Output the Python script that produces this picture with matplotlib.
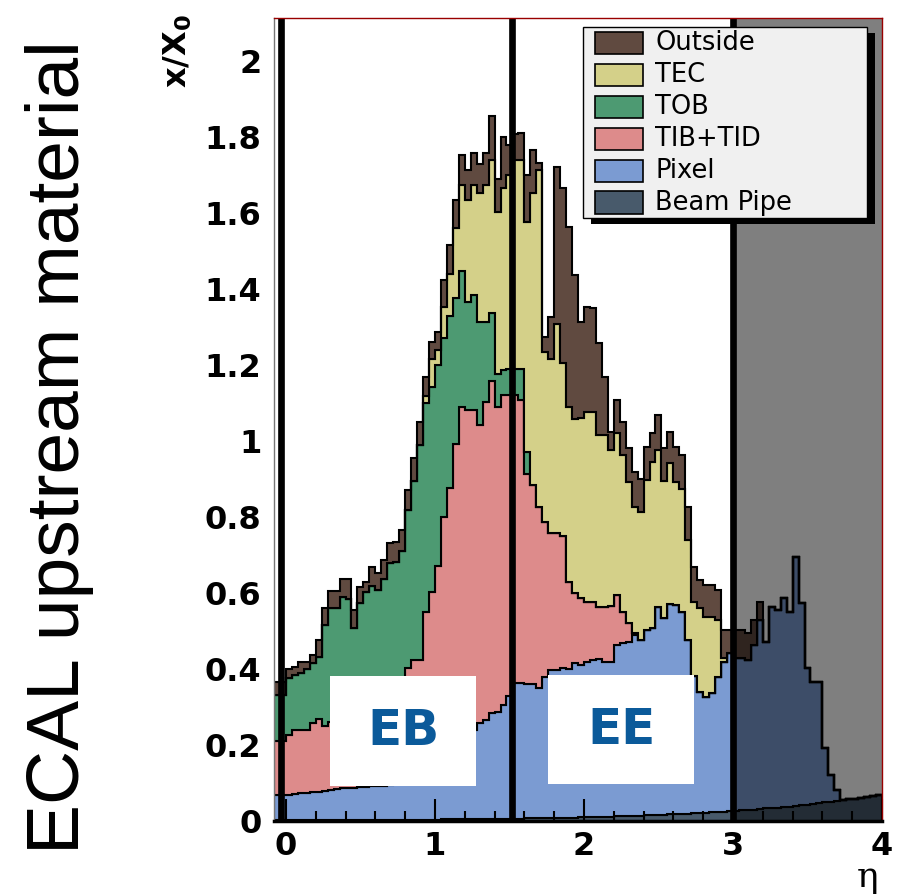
import numpy as np
import matplotlib
matplotlib.use("Agg")
import matplotlib.pyplot as plt
from matplotlib.patches import Rectangle

# ---- binning in |eta| : 0.04 wide bins, the first two just below 0 ----
eta_lo = -0.08
bin_width = 0.04
n_bins = 102

# ---- material budget per sub-detector (x/X0 per bin), bottom to top ----
beam_pipe = [
    0.0025, 0.0025,
    0.0025, 0.0025, 0.0025, 0.0025, 0.0025, 0.0026, 0.0026, 0.0026, 0.0027, 0.0027,
    0.0028, 0.0028, 0.0028, 0.0029, 0.0029, 0.0030, 0.0030, 0.0031, 0.0032, 0.0033,
    0.0034, 0.0035, 0.0036, 0.0037, 0.0038, 0.0039, 0.0040, 0.0042, 0.0043, 0.0044,
    0.0046, 0.0048, 0.0050, 0.0052, 0.0054, 0.0056, 0.0058, 0.0060, 0.0062, 0.0065,
    0.0067, 0.0070, 0.0073, 0.0076, 0.0079, 0.0082, 0.0085, 0.0088, 0.0091, 0.0094,
    0.0098, 0.0102, 0.0106, 0.0110, 0.0115, 0.0120, 0.0125, 0.0130, 0.0135, 0.0140,
    0.0146, 0.0152, 0.0158, 0.0165, 0.0172, 0.0180, 0.0187, 0.0195, 0.0203, 0.0212,
    0.022, 0.023, 0.024, 0.025, 0.026, 0.027, 0.028, 0.029, 0.030, 0.031,
    0.033, 0.034, 0.035, 0.037, 0.038, 0.040, 0.041, 0.043, 0.045, 0.047,
    0.049, 0.051, 0.053, 0.055, 0.057, 0.059, 0.061, 0.064, 0.066, 0.068,
]
pixel = [
    0.066, 0.066,
    0.066, 0.068, 0.070, 0.072, 0.074, 0.075, 0.077, 0.079, 0.082, 0.083,
    0.084, 0.085, 0.086, 0.087, 0.088, 0.089, 0.090, 0.091, 0.093, 0.097,
    0.102, 0.107, 0.111, 0.121, 0.131, 0.141, 0.156, 0.171, 0.186, 0.201,
    0.215, 0.235, 0.252, 0.260, 0.280, 0.282, 0.299, 0.324, 0.356, 0.356,
    0.353, 0.353, 0.342, 0.372, 0.389, 0.389, 0.394, 0.391, 0.406, 0.401,
    0.409, 0.414, 0.417, 0.408, 0.408, 0.451, 0.456, 0.459, 0.476, 0.462,
    0.488, 0.492, 0.548, 0.517, 0.555, 0.550, 0.532, 0.457, 0.360, 0.319,
    0.305, 0.313, 0.356, 0.394, 0.415, 0.401, 0.400, 0.396, 0.433, 0.498,
    0.439, 0.528, 0.520, 0.549, 0.513, 0.656, 0.533, 0.359, 0.322, 0.320,
    0.142, 0.070, 0.029, 0.0, 0.0, 0.0, 0.0, 0.0, 0.0, 0.0,
]
tib_tid = [
    0.142, 0.142,
    0.158, 0.170, 0.168, 0.166, 0.181, 0.192, 0.170, 0.178, 0.185, 0.194,
    0.203, 0.212, 0.221, 0.230, 0.239, 0.248, 0.257, 0.266, 0.274, 0.275,
    0.297, 0.314, 0.309, 0.426, 0.468, 0.527, 0.640, 0.700, 0.803, 0.885,
    0.862, 0.842, 0.785, 0.838, 0.873, 0.802, 0.816, 0.790, 0.758, 0.746,
    0.554, 0.524, 0.478, 0.408, 0.360, 0.360, 0.348, 0.230, 0.184, 0.176,
    0.158, 0.153, 0.136, 0.145, 0.145, 0.132, 0.082, 0.048, 0.006, 0.0,
    0.0, 0.0, 0.0, 0.0, 0.0, 0.0, 0.0, 0.0, 0.0, 0.0,
    0.0, 0.0, 0.0, 0.0, 0.0, 0.0, 0.0, 0.0, 0.0, 0.0,
    0.0, 0.0, 0.0, 0.0, 0.0, 0.0, 0.0, 0.0, 0.0, 0.0,
    0.0, 0.0, 0.0, 0.0, 0.0, 0.0, 0.0, 0.0, 0.0, 0.0,
]
tob = [
    0.120, 0.120,
    0.149, 0.145, 0.150, 0.160, 0.158, 0.162, 0.266, 0.302, 0.292, 0.310,
    0.294, 0.207, 0.263, 0.282, 0.289, 0.268, 0.286, 0.320, 0.312, 0.334,
    0.415, 0.471, 0.567, 0.549, 0.540, 0.528, 0.470, 0.455, 0.383, 0.357,
    0.284, 0.302, 0.272, 0.211, 0.179, 0.088, 0.066, 0.070, 0.070, 0.082,
    0.058, 0.0, 0.0, 0.0, 0.0, 0.0, 0.0, 0.0, 0.0, 0.0,
    0.0, 0.0, 0.0, 0.0, 0.0, 0.0, 0.0, 0.0, 0.0, 0.0,
    0.0, 0.0, 0.0, 0.0, 0.0, 0.0, 0.0, 0.0, 0.0, 0.0,
    0.0, 0.0, 0.0, 0.0, 0.0, 0.0, 0.0, 0.0, 0.0, 0.0,
    0.0, 0.0, 0.0, 0.0, 0.0, 0.0, 0.0, 0.0, 0.0, 0.0,
    0.0, 0.0, 0.0, 0.0, 0.0, 0.0, 0.0, 0.0, 0.0, 0.0,
]
tec = [
    0.0, 0.0,
    0.0, 0.0, 0.0, 0.0, 0.0, 0.0, 0.0, 0.0, 0.0, 0.0,
    0.0, 0.0, 0.0, 0.0, 0.0, 0.0, 0.0, 0.0, 0.0, 0.0,
    0.0, 0.0, 0.0, 0.020, 0.074, 0.040, 0.083, 0.110, 0.184, 0.227,
    0.268, 0.290, 0.338, 0.360, 0.402, 0.425, 0.478, 0.510, 0.549, 0.549,
    0.605, 0.768, 0.886, 0.447, 0.460, 0.552, 0.454, 0.460, 0.460, 0.473,
    0.500, 0.500, 0.452, 0.452, 0.412, 0.425, 0.413, 0.373, 0.332, 0.337,
    0.394, 0.438, 0.412, 0.360, 0.370, 0.325, 0.324, 0.263, 0.197, 0.220,
    0.211, 0.202, 0.149, 0.009, 0.0, 0.0, 0.0, 0.0, 0.0, 0.0,
    0.0, 0.0, 0.0, 0.0, 0.0, 0.0, 0.0, 0.0, 0.0, 0.0,
    0.0, 0.0, 0.0, 0.0, 0.0, 0.0, 0.0, 0.0, 0.0, 0.0,
]
outside = [
    0.036, 0.036,
    0.025, 0.021, 0.027, 0.017, 0.022, 0.046, 0.044, 0.044, 0.044, 0.047,
    0.053, 0.048, 0.044, 0.026, 0.050, 0.045, 0.051, 0.051, 0.053, 0.057,
    0.054, 0.059, 0.059, 0.049, 0.043, 0.048, 0.071, 0.076, 0.074, 0.079,
    0.079, 0.083, 0.078, 0.083, 0.116, 0.088, 0.135, 0.080, 0.070, 0.070,
    0.123, 0.114, 0.017, 0.039, 0.110, 0.411, 0.461, 0.474, 0.378, 0.255,
    0.276, 0.273, 0.241, 0.153, 0.048, 0.088, 0.087, 0.088, 0.092, 0.088,
    0.088, 0.075, 0.092, 0.088, 0.082, 0.092, 0.088, 0.088, 0.092, 0.074,
    0.083, 0.083, 0.079, 0.075, 0.062, 0.075, 0.075, 0.069, 0.066, 0.048,
    0.0, 0.0, 0.0, 0.0, 0.0, 0.0, 0.0, 0.0, 0.0, 0.0,
    0.0, 0.0, 0.0, 0.0, 0.0, 0.0, 0.0, 0.0, 0.0, 0.0,
]

layer_names = ["Beam Pipe", "Pixel", "TIB+TID", "TOB", "TEC", "Outside"]
layer_colors = ["#485a6b", "#7b9bd2", "#dd8b8b", "#4d9a72", "#d4d089", "#604a40"]

# detector boundaries and calorimeter regions
boundary_eta = [-0.03, 1.515, 3.0]
regions = ["EB", "EE"]
region_eta = [(0.297, 1.277), (1.760, 2.740)]
region_y = [(0.092, 0.382), (0.097, 0.384)]

y_ticks = [0, 0.2, 0.4, 0.6, 0.8, 1.0, 1.2, 1.4, 1.6, 1.8, 2.0]
y_tick_labels = ["0", "0.2", "0.4", "0.6", "0.8", "1", "1.2", "1.4", "1.6", "1.8", "2"]
x_ticks = [0, 1, 2, 3, 4]
x_tick_labels = ["0", "1", "2", "3", "4"]

# ---------------------------------------------------------------------------
W, H = 897, 894
fig = plt.figure(figsize=(W / 100, H / 100), dpi=100)
ax = fig.add_axes([274 / W, 1 - 821 / H, (882 - 274) / W, (821 - 18) / H])

edges = eta_lo + bin_width * np.arange(n_bins + 1)
stack = np.cumsum(np.vstack([beam_pipe, pixel, tib_tid, tob, tec, outside]), axis=0)

for i, color in enumerate(layer_colors):
    base = np.zeros(n_bins) if i == 0 else stack[i - 1]
    ax.stairs(stack[i], edges, baseline=base, fill=True, facecolor=color,
              edgecolor="black", linewidth=1.5, zorder=1)

# forward region shading
ax.add_patch(Rectangle((3.0, 0), 1.0, 1, transform=ax.get_xaxis_transform(),
                       facecolor="black", alpha=0.5, edgecolor="none", zorder=3))

# EB / EE label boxes
for name, (x0, x1), (y0, y1) in zip(regions, region_eta, region_y):
    ax.add_patch(Rectangle((x0, y0), x1 - x0, y1 - y0, facecolor="white",
                           edgecolor="none", zorder=2.6))
    ax.text((x0 + x1) / 2, (y0 + y1) / 2, name, ha="center", va="center",
            fontsize=36, fontweight="bold", color="#0b5a9a", zorder=2.7,
            family="DejaVu Sans")

for xb in boundary_eta:
    ax.axvline(xb, color="black", linewidth=4.8, zorder=4)

ax.set_xlim(eta_lo, 4.0)
ax.set_ylim(0, (821 - 18) / 380)
ax.set_axisbelow(False)

ax.set_xticks(x_ticks)
ax.set_xticklabels(x_tick_labels)
ax.set_xticks(np.arange(0, 4.0001, 0.2), minor=True)
ax.set_yticks(y_ticks)
ax.set_yticklabels(y_tick_labels)
ax.tick_params(axis="x", which="major", direction="in", length=15.6, width=1.5,
               pad=7, labelsize=23)
ax.tick_params(axis="x", which="minor", direction="in", length=7.2, width=1.5)
ax.tick_params(axis="y", which="both", length=0, pad=9, labelsize=23)
for lab in ax.get_xticklabels() + ax.get_yticklabels():
    lab.set_fontweight("bold")
    lab.set_family("DejaVu Sans")

for side in ("top", "right"):
    ax.spines[side].set_color("#990000")
    ax.spines[side].set_linewidth(1.0)
ax.spines["left"].set_color("#777777")
ax.spines["left"].set_linewidth(1.0)
ax.spines["bottom"].set_linewidth(2.5)
for sp in ax.spines.values():
    sp.set_zorder(5)

# axis titles
fig.text(60 / W, 1 - 447 / H, "ECAL upstream material", rotation=90,
         ha="center", va="center", fontsize=54, family="Liberation Sans")
fig.text(178 / W, 1 - 14 / H, r"$\mathbf{x/X_0}$", rotation=90,
         ha="center", va="top", fontsize=23)
fig.text(868 / W, 1 - 887 / H, "η", ha="center", va="baseline",
         fontsize=26, family="DejaVu Serif")

# legend with drop shadow
def fx(px):
    return px / W

def fy(py):
    return 1 - py / H

lx0, lx1, ly0, ly1 = 583, 867, 27, 218
fig.add_artist(Rectangle((fx(lx0 + 8), fy(ly1 + 6)), fx(lx1 - lx0), (ly1 - ly0) / H,
                         transform=fig.transFigure, facecolor="black",
                         edgecolor="none", zorder=10))
fig.add_artist(Rectangle((fx(lx0), fy(ly1)), fx(lx1 - lx0), (ly1 - ly0) / H,
                         transform=fig.transFigure, facecolor="#f0f0f0",
                         edgecolor="black", linewidth=1.0, zorder=11))
for j, (name, color) in enumerate(zip(layer_names[::-1], layer_colors[::-1])):
    yc = 43 + 31.9 * j
    fig.add_artist(Rectangle((fx(595), fy(yc + 11)), fx(48), 22 / H,
                             transform=fig.transFigure, facecolor=color,
                             edgecolor="black", linewidth=1.2, zorder=12))
    fig.text(fx(655), fy(yc), name, ha="left", va="center", fontsize=18.5,
             family="DejaVu Sans", zorder=12)

fig.savefig("out.png", dpi=100)
